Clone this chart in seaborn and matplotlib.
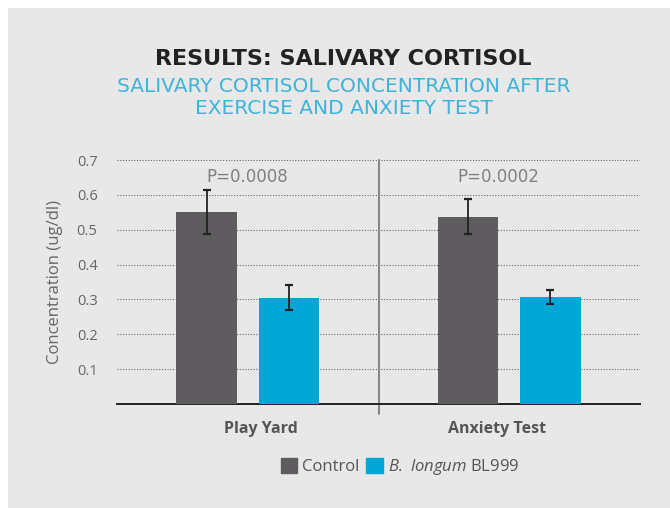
import pandas as pd
import matplotlib.pyplot as plt
import seaborn as sns
from matplotlib.patches import Rectangle
from matplotlib.transforms import ScaledTranslation

# Data
tests = ["Play Yard", "Anxiety Test"]
groups = ["Control", "B. longum BL999"]
control_mean = [0.552, 0.537]
control_err = [0.063, 0.050]
longum_mean = [0.305, 0.308]
longum_err = [0.035, 0.020]
p_values = ["P=0.0008", "P=0.0002"]
y_ticks = [0.1, 0.2, 0.3, 0.4, 0.5, 0.6, 0.7]

df = pd.DataFrame({
    "Test": tests * 2,
    "Group": [groups[0]] * 2 + [groups[1]] * 2,
    "Mean": control_mean + longum_mean,
    "Err": control_err + longum_err,
})

bg = "#e9e8e9"
colors = {"Control": "#5e5c5e", "B. longum BL999": "#00a6d6"}

sns.set_style("white")
plt.rcParams["font.family"] = ["Open Sans", "DejaVu Sans"]
plt.rcParams["mathtext.fontset"] = "custom"
plt.rcParams["mathtext.it"] = "Open Sans:italic"
plt.rcParams["mathtext.rm"] = "Open Sans"

fig = plt.figure(figsize=(6.7, 5.08), dpi=100)
fig.patch.set_facecolor("white")
fig.patches.append(Rectangle((8 / 670, 0), 1, 1 - 8 / 508, transform=fig.transFigure,
                             facecolor=bg, edgecolor="none", zorder=-10))

ax = fig.add_axes([117 / 670, 1 - 404 / 508, 523 / 670, 244 / 508])
ax.set_facecolor(bg)

sns.barplot(data=df, x="Test", y="Mean", hue="Group", order=tests, hue_order=groups,
            palette=colors, width=0.63, gap=0.27, errorbar=None, ax=ax, legend=False,
            zorder=3, saturation=1, linewidth=0)

# error bars at bar centres
for cont, grp in zip(ax.containers, groups):
    sub = df[df["Group"] == grp].set_index("Test").loc[tests]
    xs = [p.get_x() + p.get_width() / 2 for p in cont.patches]
    ax.errorbar(xs, sub["Mean"], yerr=sub["Err"], fmt="none", ecolor="#222222",
                elinewidth=1.3, capsize=3, capthick=1.6, zorder=4)

ax.set_xlim(-0.5, 1.5)
ax.set_ylim(0, 0.7)
ax.set_yticks(y_ticks)
ax.set_yticklabels([f"{t:.1f}" for t in y_ticks], color="#666666", fontsize=10.5)
ax.tick_params(axis="y", length=0, pad=14)
ax.tick_params(axis="x", length=0, pad=12)
ax.set_xticks(range(len(tests)))
ax.set_xticklabels(tests, fontsize=11.5, fontweight="bold", color="#555555")
# labels sit slightly toward the divider in the original
for lbl, dx in zip(ax.get_xticklabels(), [13, -12]):
    lbl.set_transform(lbl.get_transform() + ScaledTranslation(dx / 100, 0, fig.dpi_scale_trans))
for t in y_ticks:
    ax.axhline(t, color="#666666", linestyle=(0, (1, 1.5)), linewidth=0.8, zorder=1)

for s in ["top", "right", "left"]:
    ax.spines[s].set_visible(False)
ax.spines["bottom"].set_color("#222222")
ax.spines["bottom"].set_linewidth(1.4)

# divider between the two tests
ax.plot([0.5, 0.5], [-0.03, 0.7], color="#888888", linewidth=1.5, clip_on=False, zorder=2)

for i, p in enumerate(p_values):
    ax.text(i - 0.04 * i, 0.65, p, ha="center", va="center", fontsize=12, color="#808080",
            family="DejaVu Sans")

ax.set_xlabel("")
ax.set_ylabel("Concentration (ug/dl)", fontsize=12, color="#666666", labelpad=10)

fig.text(0.513, 1 - 59 / 508, "RESULTS: SALIVARY CORTISOL", ha="center", va="center",
         fontsize=16, fontweight="bold", color="#222222", family="DejaVu Sans")
fig.text(0.513, 1 - 98 / 508, "SALIVARY CORTISOL CONCENTRATION AFTER\nEXERCISE AND ANXIETY TEST",
         ha="center", va="center", fontsize=14.5, color="#3db4dc", linespacing=1.2,
         family="DejaVu Sans")

handles = [Rectangle((0, 0), 1, 1, color=colors[g]) for g in groups]
labels = ["Control", r"$\it{B.\ longum}$ BL999"]
fig.legend(handles, labels, loc="center", bbox_to_anchor=(400 / 670, 1 - 467 / 508), ncol=2,
           frameon=False, handlelength=1.0, handleheight=1.0, handletextpad=0.3,
           columnspacing=0.4, fontsize=12, labelcolor="#555555")

fig.savefig("out.png", dpi=100, facecolor="white")
